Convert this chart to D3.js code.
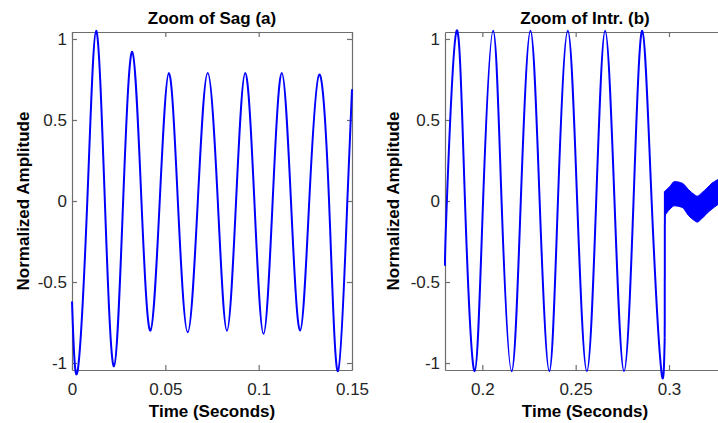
<!DOCTYPE html>
<html>
<head>
<meta charset="utf-8">
<script src="https://cdn.jsdelivr.net/npm/d3@7"></script>
<style>
  body { margin: 0; background: #fff; }
  svg { display: block; }
</style>
</head>
<body>
<script>
//Data

//Sag (a): extrema and zero crossings of the waveform
var sagTime = [0, 0.0030, 0.0082, 0.0129, 0.0176, 0.0225, 0.0274, 0.0323, 0.0372,
    0.0420, 0.0470, 0.0519, 0.0567, 0.0620, 0.0674, 0.0727, 0.0781, 0.0830, 0.0879,
    0.0928, 0.0977, 0.1026, 0.1075, 0.1124, 0.1173, 0.1222, 0.1271, 0.1324, 0.1377,
    0.1425, 0.1475, 0.1500];
var sagValue = [-0.62, -1.05, 0, 1.05, 0, -1.02, 0, 0.92, 0,
    -0.8, 0, 0.79, 0, -0.81, 0, 0.79, 0, -0.8, 0,
    0.79, 0, -0.82, 0, 0.79, 0, -0.8, 0, 0.78, 0,
    -1.05, 0, 0.69];

//Interruption (b): waveform before the cut
var intrTime = [0.1800, 0.1810, 0.1862, 0.1907, 0.1959, 0.2004, 0.2058, 0.2103, 0.2157,
    0.2206, 0.2258, 0.2307, 0.2359, 0.2405, 0.2458, 0.2508, 0.2560, 0.2610, 0.2658,
    0.2708, 0.2759, 0.2810, 0.2857, 0.2907, 0.2959, 0.2977];
var intrValue = [-0.4, 0, 1.05, 0, -1.05, 0, 1.05, 0, -1.05,
    0, 1.05, 0, -1.05, 0, 1.05, 0, -1.05, 0, 1.05,
    0, -1.05, 0, 1.05, 0, -1.05, -0.84];

//the step when the supply drops out
var jumpTime = [0.2977, 0.2978];
var jumpValue = [-0.84, 0.06];

//noise band left after the interruption
var bandTime = [0.2978, 0.3005, 0.3029, 0.3071, 0.3105, 0.3135, 0.3151, 0.3175, 0.3204, 0.3230, 0.3258, 0.3300];
var bandUpper = [0.06, 0.09, 0.12, 0.11, 0.07, 0.04, 0.03, 0.05, 0.08, 0.11, 0.13, 0.16];
var bandLower = [-0.09, -0.05, -0.03, -0.04, -0.09, -0.12, -0.13, -0.11, -0.075, -0.05, -0.025, 0.0];

//Ticks and labels
var yTicks = [-1, -0.5, 0, 0.5, 1];
var sagTicks = [0, 0.05, 0.1, 0.15];
var intrTicks = [0.2, 0.25, 0.3];
var titles = ["Zoom of Sag (a)", "Zoom of Intr. (b)"];
var xLabel = "Time (Seconds)";
var yLabel = "Normalized Amplitude";


var width = 718;
var height = 423;
var axisColor = "#6e6e6e";
var waveColor = "#0000ff";

var svg = d3.select("body")
    .append("svg")
    .attr("width", width)
    .attr("height", height)
    .style("font-family", "Arial, 'Liberation Sans', sans-serif");

svg.append("rect")
    .attr("width", width)
    .attr("height", height)
    .attr("fill", "#fff");

var sagPanel = renderPanel({ left: 72, top: 32, w: 280, h: 338, xDomain: [0, 0.15], xTicks: sagTicks, title: titles[0], yLabelGap: 43 });
var intrPanel = renderPanel({ left: 445, top: 32, w: 280, h: 338, xDomain: [0.18, 0.33], xTicks: intrTicks, title: titles[1], yLabelGap: 46 });

//waveforms
drawWave(sagPanel, sagTime, sagValue, d3.curveNatural);
drawWave(intrPanel, intrTime, intrValue, d3.curveNatural);
drawWave(intrPanel, jumpTime, jumpValue, d3.curveLinear);

var band = d3.area()
    .curve(d3.curveMonotoneX)
    .x(i => intrPanel.x(bandTime[i]))
    .y0(i => intrPanel.y(bandLower[i]))
    .y1(i => intrPanel.y(bandUpper[i]));

intrPanel.g.append("path")
    .attr("d", band(d3.range(bandTime.length)))
    .attr("fill", waveColor)
    .attr("stroke", waveColor)
    .attr("stroke-width", 1);


function renderPanel(p) {
    var x = d3.scaleLinear().domain(p.xDomain).range([p.left, p.left + p.w]);
    var y = d3.scaleLinear().domain([-1.043, 1.043]).range([p.top + p.h, p.top]);
    var g = svg.append("g");

    //box-style axes, ticks pointing inwards on all four sides
    var bottom = g.append("g")
        .attr("transform", `translate(0,${p.top + p.h})`)
        .call(d3.axisBottom(x).tickValues(p.xTicks).tickFormat(d => d).tickSizeInner(-5).tickSizeOuter(0).tickPadding(13));
    var top = g.append("g")
        .attr("transform", `translate(0,${p.top})`)
        .call(d3.axisTop(x).tickValues(p.xTicks).tickFormat("").tickSizeInner(-5).tickSizeOuter(0));
    var left = g.append("g")
        .attr("transform", `translate(${p.left},0)`)
        .call(d3.axisLeft(y).tickValues(yTicks).tickFormat(d => d).tickSizeInner(-5).tickSizeOuter(0).tickPadding(5));
    var right = g.append("g")
        .attr("transform", `translate(${p.left + p.w},0)`)
        .call(d3.axisRight(y).tickValues(yTicks).tickFormat("").tickSizeInner(-5).tickSizeOuter(0));

    [bottom, top, left, right].forEach(a => {
        a.selectAll("path, line").attr("stroke", axisColor).attr("stroke-width", 1.2);
        a.selectAll("text").attr("fill", "#262626").attr("font-size", 17).attr("font-family", null);
    });

    g.append("text")
        .attr("x", p.left + p.w / 2)
        .attr("y", 24)
        .attr("text-anchor", "middle")
        .attr("font-size", 17)
        .attr("font-weight", "bold")
        .text(p.title);

    g.append("text")
        .attr("x", p.left + p.w / 2)
        .attr("y", 417)
        .attr("text-anchor", "middle")
        .attr("font-size", 17)
        .attr("font-weight", "bold")
        .text(xLabel);

    g.append("text")
        .attr("transform", `translate(${p.left - p.yLabelGap},${p.top + p.h / 2}) rotate(-90)`)
        .attr("text-anchor", "middle")
        .attr("font-size", 17)
        .attr("font-weight", "bold")
        .text(yLabel);

    return { x: x, y: y, g: g };
}

function drawWave(panel, time, value, curve) {
    var line = d3.line()
        .curve(curve)
        .x(i => panel.x(time[i]))
        .y(i => panel.y(value[i]));

    panel.g.append("path")
        .attr("d", line(d3.range(time.length)))
        .attr("fill", "none")
        .attr("stroke", waveColor)
        .attr("stroke-width", 2)
        .attr("stroke-linejoin", "round");
}
</script>
</body>
</html>
